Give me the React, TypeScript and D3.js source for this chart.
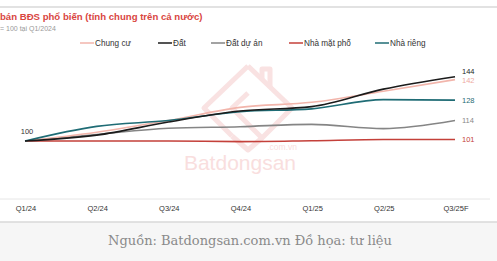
import React from "react";
import * as d3 from "d3";

const categories = ["Q1/24", "Q2/24", "Q3/24", "Q4/24", "Q1/25", "Q2/25", "Q3/25F"];
const chungCu = [100, 106, 114, 123, 126.5, 134, 142];
const dat = [100, 104, 113, 120.5, 123.5, 135.5, 144];
const datDuAn = [100, 104.5, 108.7, 109.8, 111.4, 108.5, 114];
const nhaMatPho = [100, 100, 100, 99.6, 100.2, 101, 101];
const nhaRieng = [100, 110, 114, 120, 122, 128.3, 128];
const seriesNames = ["Chung cư", "Đất", "Đất dự án", "Nhà mặt phố", "Nhà riêng"];
const endLabels = ["142", "144", "114", "101", "128"];

const W = 497;
const H = 261;
const colors = ["#f2b5ab", "#1b1b1b", "#858585", "#c4403a", "#1f6c75"];
const labelColors = ["#eeaa9f", "#222", "#888", "#c4403a", "#1f6c75"];
const labelDy = [1, -5, 0, 0, 0];
const legendX = [80, 158, 211, 289, 375];

export default function App() {
  const allSeries = [chungCu, dat, datDuAn, nhaMatPho, nhaRieng];
  const x = d3.scalePoint<string>().domain(categories).range([25, 455]);
  const y = d3.scaleLinear().domain([100, 144]).range([141, 76.7]);
  const line = d3
    .line<number>()
    .x((_, i) => x(categories[i]) as number)
    .y((d) => y(d))
    .curve(d3.curveMonotoneX);
  const sans = "'Liberation Sans', Arial, sans-serif";
  const drawOrder = [2, 3, 0, 4, 1];
  return (
    <div style={{ position: "fixed", left: 0, top: 0, width: W, height: H, background: "#fff" }}>
      <svg width={W} height={H} style={{ display: "block" }}>
        <rect x={0} y={0} width={W} height={H} fill="#fff" />
        <line x1={0} x2={W} y1={7} y2={7} stroke="#d8d8d8" strokeWidth={1.5} />
        {/* watermark */}
        <g stroke="#f9e2e2" fill="none" strokeWidth={5} strokeLinejoin="round">
          <path d="M248,66 L292,108 L262,138 L232,108 L248,93" />
          <path d="M248,66 L204,108 L232,136" />
          <path d="M262,79 L262,69 L270,69 L270,87" />
          <path d="M232,136 L248,150 L262,138" />
        </g>
        <text x={240} y={170} textAnchor="middle" fontFamily={sans} fontSize={21} fill="#f9dede">
          Batdongsan
        </text>
        <text x={297} y={150} textAnchor="end" fontFamily={sans} fontSize={8.5} fill="#f9dede">
          .com.vn
        </text>
        {/* title */}
        <text x={0} y={20} fontFamily={sans} fontSize={9.6} fontWeight="bold" fill="#d9463f">
          bán BĐS phổ biến (tính chung trên cả nước)
        </text>
        <text x={0} y={31} fontFamily={sans} fontSize={7} fill="#999">
          = 100 tại Q1/2024
        </text>
        {/* legend */}
        {seriesNames.map((n, i) => (
          <g key={n}>
            <line x1={legendX[i]} x2={legendX[i] + 14} y1={43} y2={43} stroke={colors[i]} strokeWidth={1.5} />
            <text x={legendX[i] + 15} y={46} fontFamily={sans} fontSize={8.2} fill="#333">
              {n}
            </text>
          </g>
        ))}
        {/* axis */}
        <line x1={0} x2={490} y1={199} y2={199} stroke="#e6e6e6" strokeWidth={1} />
        {categories.map((c) => (
          <text key={c} x={(x(c) as number) + 1} y={211} textAnchor="middle" fontFamily={sans} fontSize={7.5} fill="#333">
            {c}
          </text>
        ))}
        {/* lines */}
        {drawOrder.map((i) => (
          <path key={i} d={line(allSeries[i]) || ""} fill="none" stroke={colors[i]} strokeWidth={1.6} />
        ))}
        <text x={27} y={y(100) - 7} textAnchor="middle" fontFamily={sans} fontSize={7.5} fill="#333">
          100
        </text>
        {allSeries.map((s, i) => (
          <text
            key={i}
            x={462}
            y={y(s[s.length - 1]) + labelDy[i] + 2.5}
            fontFamily={sans}
            fontSize={7.5}
            fill={labelColors[i]}
          >
            {endLabels[i]}
          </text>
        ))}
        {/* footer */}
        <rect x={0} y={222} width={W} height={H - 222} fill="#f6f6f6" />
        <line x1={0} x2={W} y1={222} y2={222} stroke="#d8d8d8" strokeWidth={1.5} />
        <text x={250} y={245} textAnchor="middle" fontFamily="'DejaVu Serif', serif" fontSize={13} fill="#8a8a8a">
          Nguồn: Batdongsan.com.vn Đồ họa: tư liệu
        </text>
      </svg>
    </div>
  );
}
